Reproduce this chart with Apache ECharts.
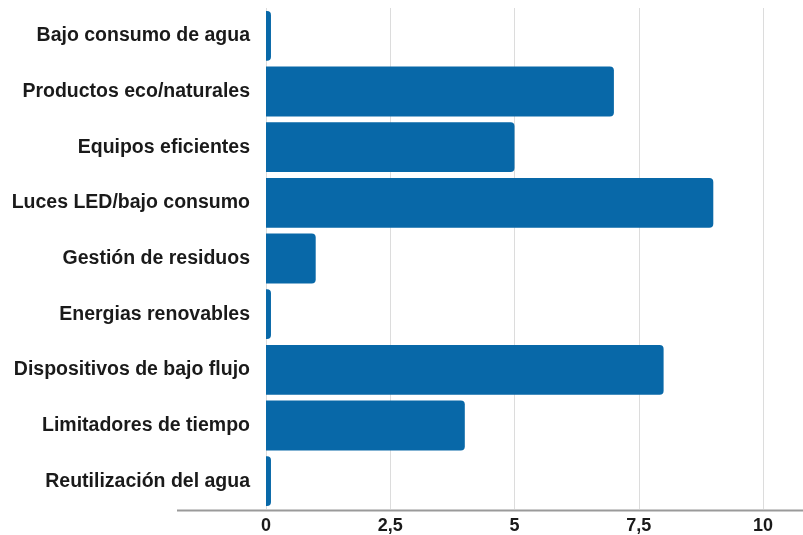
<!DOCTYPE html>
<html><head><meta charset="utf-8">
<script src="https://cdn.jsdelivr.net/npm/echarts@6/dist/echarts.min.js"></script>
<style>html,body{margin:0;padding:0;background:#fff}#c{width:803px;height:535px}</style>
</head><body><div id="c"></div>
<script>
const categories = ["Bajo consumo de agua","Productos eco/naturales","Equipos eficientes","Luces LED/bajo consumo","Gestión de residuos","Energias renovables","Dispositivos de bajo flujo","Limitadores de tiempo","Reutilización del agua"];
const values = [0.1, 7, 5, 9, 1, 0.1, 8, 4, 0.1];
const xTicks = [0, 2.5, 5, 7.5, 10];

const chart = echarts.init(document.getElementById('c'), null, {renderer:'canvas'});
chart.setOption({
  animation:false,
  grid:{left:266, right:40, top:8, bottom:25, containLabel:false},
  xAxis:{type:'value', min:xTicks[0], max:xTicks[xTicks.length-1], interval:2.5,
    axisLine:{show:false}, axisTick:{show:false},
    splitLine:{show:true, lineStyle:{color:'#dcdcdc', width:1}},
    axisLabel:{margin:8, color:'#1a1a1a', fontWeight:'bold', fontSize:18, fontFamily:'Liberation Sans, Arial, sans-serif',
      formatter:v=>String(v).replace('.',',')}},
  yAxis:{type:'category', inverse:true, data:categories,
    axisLine:{show:false}, axisTick:{show:false},
    axisLabel:{margin:16, color:'#1a1a1a', fontWeight:'bold', fontSize:19.5, fontFamily:'Liberation Sans, Arial, sans-serif'}},
  series:[{type:'bar', data:values, barCategoryGap:'10.5%',
    itemStyle:{color:'#0868A8', borderRadius:[0,4,4,0]}}],
  graphic:[{type:'line', shape:{x1:177, y1:510.5, x2:803, y2:510.5}, style:{stroke:'#9a9a9a', lineWidth:2}, z:10}]
});
</script></body></html>
